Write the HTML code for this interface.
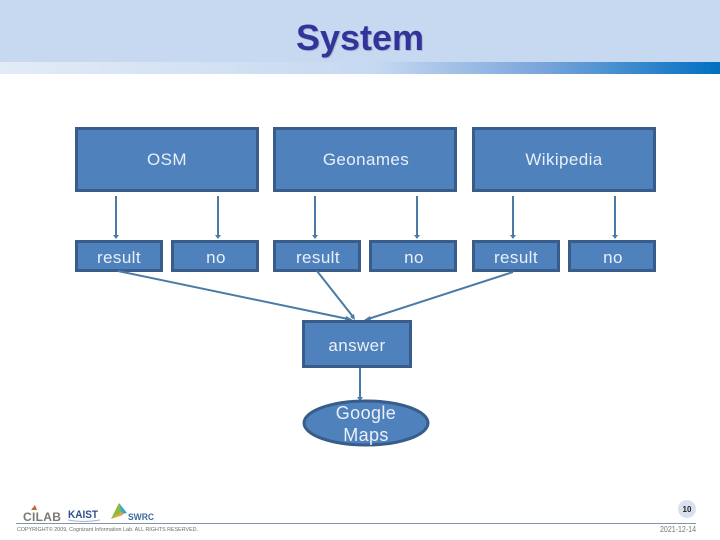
<!DOCTYPE html>
<html><head><meta charset="utf-8"><style>
html,body{margin:0;padding:0;background:#fff;width:720px;height:540px;overflow:hidden}
svg{display:block}
text{font-family:"Liberation Sans",sans-serif}
.l{fill:#fff;fill-opacity:.88;font-size:17px;text-anchor:middle;letter-spacing:.4px}
.b{fill:#4f81bd;stroke:#385d8a;stroke-width:3}
.c{stroke:#4a7ba7;stroke-width:2;fill:none}
.a{fill:#4a7ba7}
</style></head><body>
<svg width="720" height="540" viewBox="0 0 720 540" xmlns="http://www.w3.org/2000/svg">
<defs><linearGradient id="g" x1="0" x2="1" y1="0" y2="0">
<stop offset="0" stop-color="#e3ebf6"/><stop offset=".52" stop-color="#c6d9f1"/><stop offset=".75" stop-color="#7ba5dc"/><stop offset="1" stop-color="#0070c0"/></linearGradient></defs>
<rect x="0" y="0" width="720" height="62" fill="#c6d9f1"/>
<rect x="0" y="62" width="720" height="12" fill="url(#g)"/>
<text x="361" y="51" text-anchor="middle" font-size="36" font-weight="bold" fill="#a9b6cf">System</text>
<text x="360" y="50" text-anchor="middle" font-size="36" font-weight="bold" fill="#333399">System</text>

<rect class="b" x="76.500" y="128.500" width="181" height="62"/>
<rect class="b" x="274.500" y="128.500" width="181" height="62"/>
<rect class="b" x="473.500" y="128.500" width="181" height="62"/>
<rect class="b" x="76.500" y="241.500" width="85" height="29"/>
<rect class="b" x="172.500" y="241.500" width="85" height="29"/>
<rect class="b" x="274.500" y="241.500" width="85" height="29"/>
<rect class="b" x="370.500" y="241.500" width="85" height="29"/>
<rect class="b" x="473.500" y="241.500" width="85" height="29"/>
<rect class="b" x="569.500" y="241.500" width="85" height="29"/>

<path class="c" d="M116 196V235M218 196V235M315 196V235M417 196V235M513 196V235M615 196V235"/>
<path class="c" d="M118 271L348 319M317 271L354 318M513 272L368 319M360 368V398"/>
<path class="a" d="M113 235h6l-3 4zM215 235h6l-3 4zM312 235h6l-3 4zM414 235h6l-3 4zM510 235h6l-3 4zM612 235h6l-3 4zM357 397h6l-3 4z"/>
<path class="a" d="M346 316l7 4-8 1zM350 317l5 3-1-6zM370 316l-6 4 7 1z"/>

<rect class="b" x="303.500" y="321.500" width="107" height="45"/>
<ellipse class="b" cx="366" cy="423" rx="62" ry="22"/>

<text class="l" x="167" y="165">OSM</text>
<text class="l" x="366" y="165">Geonames</text>
<text class="l" x="564" y="165">Wikipedia</text>
<text class="l" x="119" y="263">result</text>
<text class="l" x="216" y="263">no</text>
<text class="l" x="318" y="263">result</text>
<text class="l" x="414" y="263">no</text>
<text class="l" x="516" y="263">result</text>
<text class="l" x="613" y="263">no</text>
<text class="l" x="357" y="351">answer</text>
<text class="l" x="366" y="419" style="font-size:18px">Google</text>
<text class="l" x="366" y="441" style="font-size:18px">Maps</text>

<path d="M31 510l4-5 2 5z" fill="#c8643c"/>
<text x="23" y="521" font-size="12" font-weight="bold" fill="#7a7a6e" letter-spacing=".3">CILAB</text>
<text x="68" y="518" font-size="11" font-weight="bold" fill="#2f4f8f" textLength="30" lengthAdjust="spacingAndGlyphs">KAIST</text>
<path d="M68 520q15 3 32 0" stroke="#9db4d4" stroke-width="1" fill="none"/>
<path d="M111 519l8-16 3 9z" fill="#8dbb3c"/>
<path d="M119 503l8 10-5 1z" fill="#39a9c9"/>
<path d="M111 519l11-7 1 3z" fill="#f0a030"/>
<text x="128" y="520" font-size="9.500" font-weight="bold" fill="#3b6a9e" textLength="26" lengthAdjust="spacingAndGlyphs">SWRC</text>

<rect x="16" y="523" width="680" height="1" fill="#7f94a8"/>
<text x="17" y="531" font-size="5.500" fill="#6a6a6a" textLength="181" lengthAdjust="spacingAndGlyphs">COPYRIGHT© 2009, Cognizant Information Lab. ALL RIGHTS RESERVED.</text>
<circle cx="687" cy="509" r="9" fill="#d9e1ee"/>
<text x="687" y="512" font-size="8" font-weight="bold" text-anchor="middle" fill="#222">10</text>
<text x="678" y="532" font-size="8" text-anchor="middle" fill="#777" textLength="36" lengthAdjust="spacingAndGlyphs">2021-12-14</text>
</svg>
</body></html>
